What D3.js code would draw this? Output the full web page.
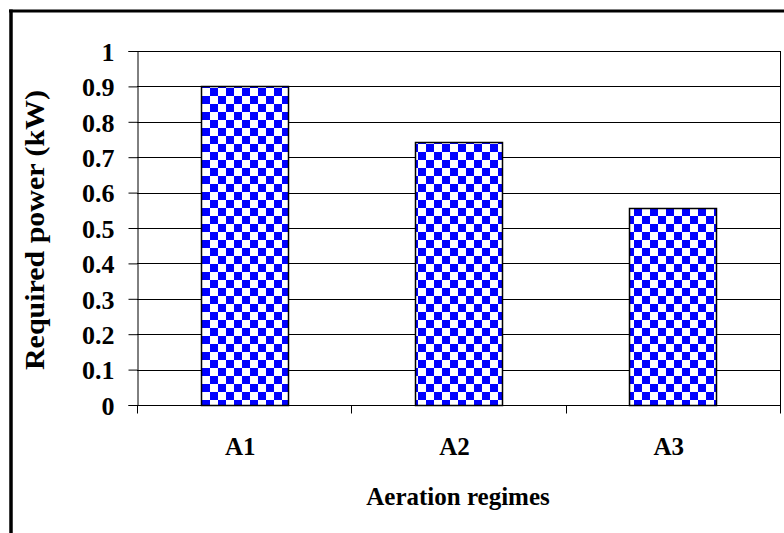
<!DOCTYPE html>
<html>
<head>
<meta charset="utf-8">
<script src="https://cdn.jsdelivr.net/npm/d3@7/dist/d3.min.js"></script>
<style>
  html, body { margin: 0; padding: 0; background: #fff; }
  svg { display: block; }
  text { font-family: "Liberation Serif", "Times New Roman", serif; font-weight: bold; fill: #000; }
</style>
</head>
<body>
<script>
// Required power for each aeration regime
const categories = ["A1", "A2", "A3"];
const power = [0.9, 0.743, 0.556];
const yTicks = [0, 0.1, 0.2, 0.3, 0.4, 0.5, 0.6, 0.7, 0.8, 0.9, 1];

const W = 784, H = 533;
const plot = { left: 137, right: 780, top: 51, bottom: 405 };

const svg = d3.select("body").append("svg").attr("width", W).attr("height", H);

// Checkerboard fill for the bars
const defs = svg.append("defs");
const pat = defs.append("pattern")
  .attr("id", "checker")
  .attr("patternUnits", "userSpaceOnUse")
  .attr("width", 16).attr("height", 16)
  .attr("x", 202).attr("y", 0);
pat.append("rect").attr("width", 16).attr("height", 16).attr("fill", "#fff");
pat.append("rect").attr("x", 0).attr("y", 0).attr("width", 8).attr("height", 8).attr("fill", "#0000ff");
pat.append("rect").attr("x", 8).attr("y", 8).attr("width", 8).attr("height", 8).attr("fill", "#0000ff");

// Outer frame (top and left edges visible)
svg.append("line").attr("x1", 9).attr("x2", W).attr("y1", 11).attr("y2", 11)
  .attr("stroke", "#000").attr("stroke-width", 3);
svg.append("line").attr("x1", 11).attr("x2", 11).attr("y1", 9.5).attr("y2", H)
  .attr("stroke", "#000").attr("stroke-width", 3.5);

const x = d3.scaleBand().domain(categories).range([plot.left, plot.right])
  .paddingInner(0.595).paddingOuter(0.2975);
const y = d3.scaleLinear().domain([0, 1]).range([plot.bottom, plot.top]);

// Horizontal gridlines
svg.append("g").selectAll("line").data(yTicks).join("line")
  .attr("x1", plot.left).attr("x2", plot.right)
  .attr("y1", d => Math.round(y(d)) + 0.5).attr("y2", d => Math.round(y(d)) + 0.5)
  .attr("stroke", "#000").attr("stroke-width", 1);

// Right edge of plot area
svg.append("line").attr("x1", plot.right + 0.5).attr("x2", plot.right + 0.5)
  .attr("y1", plot.top).attr("y2", plot.bottom)
  .attr("stroke", "#000").attr("stroke-width", 1);

// Bars
svg.append("g").selectAll("rect").data(categories).join("rect")
  .attr("x", d => Math.round(x(d)) + 0.5)
  .attr("width", Math.round(x.bandwidth()))
  .attr("y", (d, i) => Math.round(y(power[i])) + 0.5)
  .attr("height", (d, i) => Math.round(y(0)) - Math.round(y(power[i])))
  .attr("fill", "url(#checker)")
  .attr("stroke", "#000").attr("stroke-width", 1.5);

// Y axis
const yAxis = d3.axisLeft(y).tickValues(yTicks).tickSize(9).tickPadding(14)
  .tickFormat(d => d === 0 || d === 1 ? String(d) : d3.format(".1f")(d));
const gy = svg.append("g").attr("transform", `translate(${plot.left + 0.5},0)`).call(yAxis);
gy.select(".domain").attr("stroke", "#000");
gy.selectAll(".tick line").attr("stroke", "#000");
gy.selectAll(".tick text")
  .attr("dy", "0.36em")
  .style("font-size", "26px").style("font-family", "Liberation Serif").style("font-weight", "bold");

// X axis with category boundary ticks
const gx = svg.append("g").attr("transform", `translate(0,${plot.bottom + 0.5})`);
gx.append("line").attr("x1", plot.left).attr("x2", plot.right + 1)
  .attr("stroke", "#000");
const bounds = d3.range(categories.length + 1).map(i => plot.left + i * (plot.right - plot.left) / categories.length);
gx.selectAll("line.b").data(bounds).join("line").attr("class", "b")
  .attr("x1", d => Math.round(d) + 0.5).attr("x2", d => Math.round(d) + 0.5)
  .attr("y1", 0).attr("y2", 8).attr("stroke", "#000");
gx.selectAll("text").data(categories).join("text")
  .attr("x", d => x(d) + x.bandwidth() / 2 - 4)
  .attr("y", 49.5)
  .attr("text-anchor", "middle")
  .style("font-size", "25px")
  .text(d => d);

// Axis titles
svg.append("text")
  .attr("x", 458).attr("y", 505)
  .attr("text-anchor", "middle")
  .style("font-size", "25px")
  .text("Aeration regimes");

svg.append("text")
  .attr("transform", `translate(44,230) rotate(-90)`)
  .attr("text-anchor", "middle")
  .attr("textLength", 280)
  .attr("lengthAdjust", "spacingAndGlyphs")
  .style("font-size", "27px")
  .text("Required power (kW)");
</script>
</body>
</html>
